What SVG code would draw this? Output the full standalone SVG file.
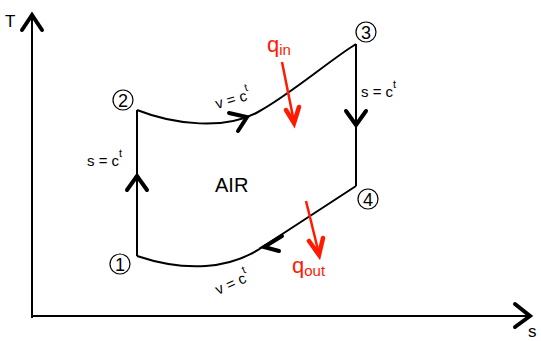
<svg xmlns="http://www.w3.org/2000/svg" width="541" height="341" viewBox="0 0 541 341">
<style>
.ax{stroke:#000;stroke-width:2;fill:none}
.ln{stroke:#000;stroke-width:2;fill:none}
.hd{stroke:#000;stroke-width:4;fill:none;stroke-linecap:round;stroke-linejoin:miter}
.rd{stroke:#ff1a00;stroke-width:2.5;fill:none}
.rh{stroke:#ff1a00;stroke-width:4.5;fill:none;stroke-linecap:round}
.t{font-family:"Liberation Sans",Arial,sans-serif;fill:#000}
.r{font-family:"Liberation Sans",Arial,sans-serif;fill:#ff1a00}
.c{fill:#fff;stroke:#000;stroke-width:1.2}
</style>
<rect width="541" height="341" fill="#fff"/>
<g id="axes">
<line class="ax" x1="32" y1="318" x2="32" y2="14"/>
<line class="ax" x1="31" y1="316" x2="530" y2="316"/>
<polyline class="hd" points="22,30 32,15 42,30"/>
<polyline class="hd" points="515,304 530,316 515,327"/>
<text class="t" x="5" y="27" font-size="17">T</text>
<text class="t" x="528" y="337" font-size="17">s</text>
</g>
<g id="connectors">
<path class="ln" d="M137,256 L137,110"/>
<path class="ln" d="M137,110 C175,125 225,130 258,112 S330,60 356,44"/>
<path class="ln" d="M356,44 L356,186"/>
<path class="ln" d="M356,186 L264,246 C230,270 185,272 137,256"/>
<polyline class="hd" points="127,190 137,176 147,190"/>
<polyline class="hd" points="229,113 247,117 238,131"/>
<polyline class="hd" points="346,111 356,125 366,111"/>
<polyline class="hd" points="282,236 264,247 279,251"/>
</g>
<g id="node1"><circle class="c" cx="120" cy="264" r="10"/><text class="t" x="120" y="271" font-size="18" text-anchor="middle">1</text></g>
<g id="node2"><circle class="c" cx="123" cy="100" r="10"/><text class="t" x="123" y="107" font-size="18" text-anchor="middle">2</text></g>
<g id="node3"><circle class="c" cx="366" cy="32" r="10"/><text class="t" x="366" y="39" font-size="18" text-anchor="middle">3</text></g>
<g id="node4"><circle class="c" cx="368" cy="199" r="10"/><text class="t" x="368" y="206" font-size="18" text-anchor="middle">4</text></g>
<g id="labels">
<text class="t" x="87" y="166" font-size="15">s = c<tspan font-size="11" dy="-9">t</tspan></text>
<text class="t" x="361" y="97" font-size="15">s = c<tspan font-size="11" dy="-9">t</tspan></text>
<text class="t" x="217" y="109" font-size="15" transform="rotate(-16 217 109)">v = c<tspan font-size="11" dy="-9">t</tspan></text>
<text class="t" x="218" y="295" font-size="15" transform="rotate(-24 218 295)">v = c<tspan font-size="11" dy="-9">t</tspan></text>
<text class="t" x="215" y="192" font-size="20">AIR</text>
</g>
<g id="qin">
<text class="r" x="267" y="52" font-size="22">q<tspan font-size="15" dy="3">in</tspan></text>
<line class="rd" x1="282" y1="62" x2="294" y2="122"/>
<polyline class="rh" points="286,110 294,123 299,107"/>
</g>
<g id="qout">
<text class="r" x="292" y="273" font-size="22">q<tspan font-size="15" dy="3">out</tspan></text>
<line class="rd" x1="306" y1="201" x2="319" y2="254"/>
<polyline class="rh" points="309,241 319,255 323,238"/>
</g>
</svg>
